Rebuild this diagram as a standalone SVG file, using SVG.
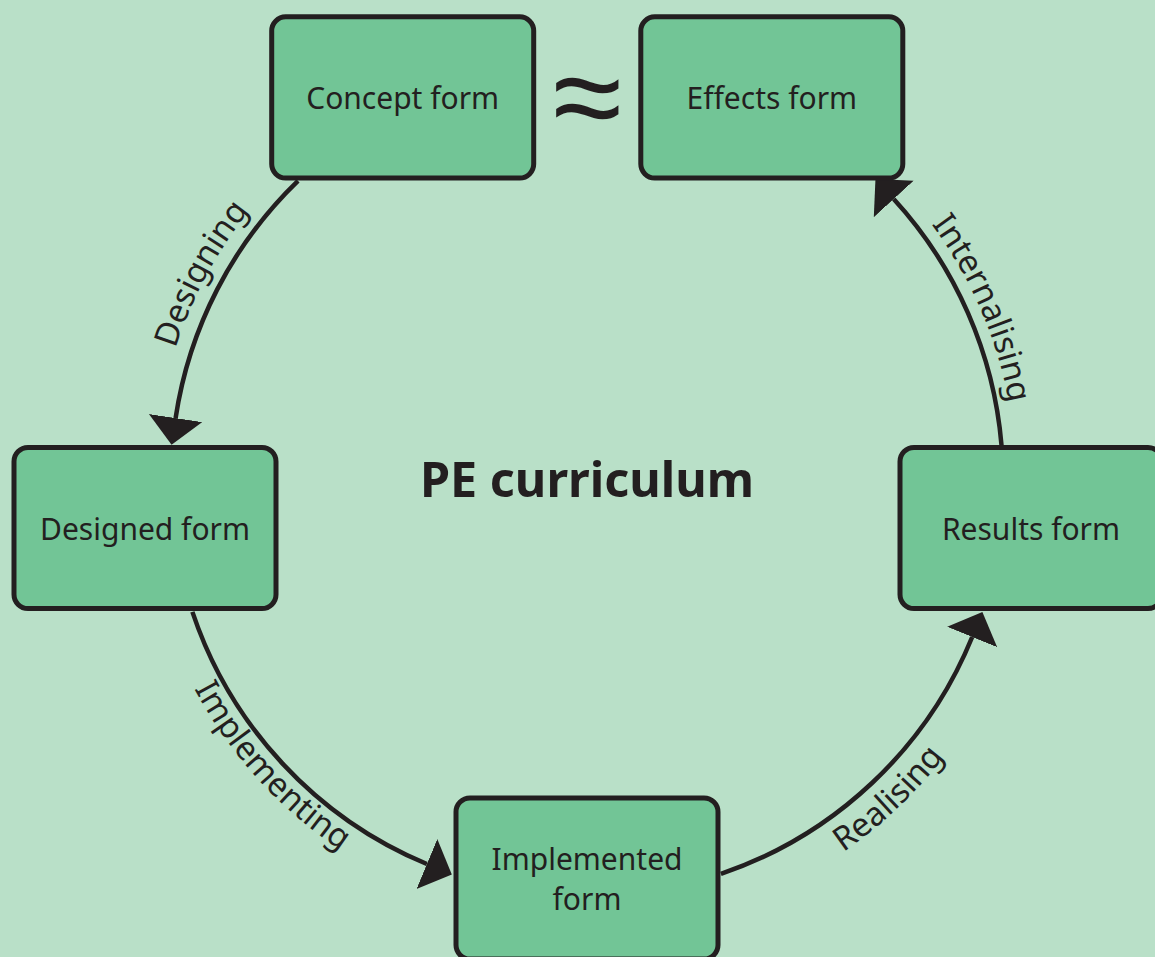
<svg xmlns="http://www.w3.org/2000/svg" xmlns:xlink="http://www.w3.org/1999/xlink" width="1155" height="957" viewBox="0 0 1155 957">
<style>
.node rect{fill:#72c596;stroke:#231f20;stroke-width:5}
.lbl{font-family:"Noto Sans","Liberation Sans",sans-serif;font-size:30px;fill:#231f20;text-anchor:middle}
.clbl{font-family:"Noto Sans","Liberation Sans",sans-serif;font-size:33px;fill:#231f20;text-anchor:middle}
.conn path{fill:none;stroke:#231f20;stroke-width:4.5;marker-end:url(#arr)}
.title{font-family:"Noto Sans","Liberation Sans",sans-serif;font-size:48.5px;font-weight:bold;fill:#231f20;text-anchor:middle}
</style>
<defs>
<marker id="arr" markerUnits="userSpaceOnUse" markerWidth="28" markerHeight="56" refX="0" refY="27" orient="auto">
<path d="M0,0 L27,27 L0,54 Z" fill="#231f20"/>
</marker>
<path id="pDes" d="M155.2,494 A432,432 0 0 1 359,113.1"/>
<path id="pInt" d="M842.4,135.3 A429,429 0 0 1 1013.2,528.9"/>
<path id="pImp" d="M152.5,574 A445,445 0 0 0 450.9,903.7"/>
<path id="pRea" d="M691.2,919.6 A452,452 0 0 0 1020.2,608.8"/>
</defs>
<rect width="1155" height="957" fill="#b9e0c8"/>
<g id="connectors" class="conn">
<path d="M298,180.8 A416,416 0 0 0 175.6,418.1"/>
<path d="M192.4,611.9 A416,416 0 0 0 426.9,864"/>
<path d="M720.9,873.9 A416,416 0 0 0 972.2,637"/>
<path d="M1001.5,445.1 A416,416 0 0 0 893.7,199"/>
</g>
<g id="connector-labels">
<text class="clbl"><textPath xlink:href="#pDes" startOffset="50%">Designing</textPath></text>
<text class="clbl"><textPath xlink:href="#pInt" startOffset="50%">Internalising</textPath></text>
<text class="clbl"><textPath xlink:href="#pImp" startOffset="50%">Implementing</textPath></text>
<text class="clbl"><textPath xlink:href="#pRea" startOffset="50%">Realising</textPath></text>
</g>
<g id="concept" class="node">
<rect x="271.7" y="16.8" width="262" height="161.2" rx="14"/>
<text class="lbl" x="402.7" y="108.8">Concept form</text>
</g>
<g id="effects" class="node">
<rect x="640.8" y="16.8" width="262" height="161.2" rx="14"/>
<text class="lbl" x="771.8" y="108.8">Effects form</text>
</g>
<g id="designed" class="node">
<rect x="14" y="447.5" width="262" height="161" rx="14"/>
<text class="lbl" x="145" y="539.5">Designed form</text>
</g>
<g id="results" class="node">
<rect x="900" y="447.5" width="262" height="161" rx="14"/>
<text class="lbl" x="1031" y="539.5">Results form</text>
</g>
<g id="implemented" class="node">
<rect x="456" y="798" width="262" height="161" rx="14"/>
<text class="lbl" x="587" y="870">Implemented</text>
<text class="lbl" x="587" y="910">form</text>
</g>
<text id="approx" x="587" y="140" font-family="Noto Sans, sans-serif" font-size="126" fill="#231f20" text-anchor="middle">≈</text>
<text id="title" class="title" x="587" y="497">PE curriculum</text>
</svg>
